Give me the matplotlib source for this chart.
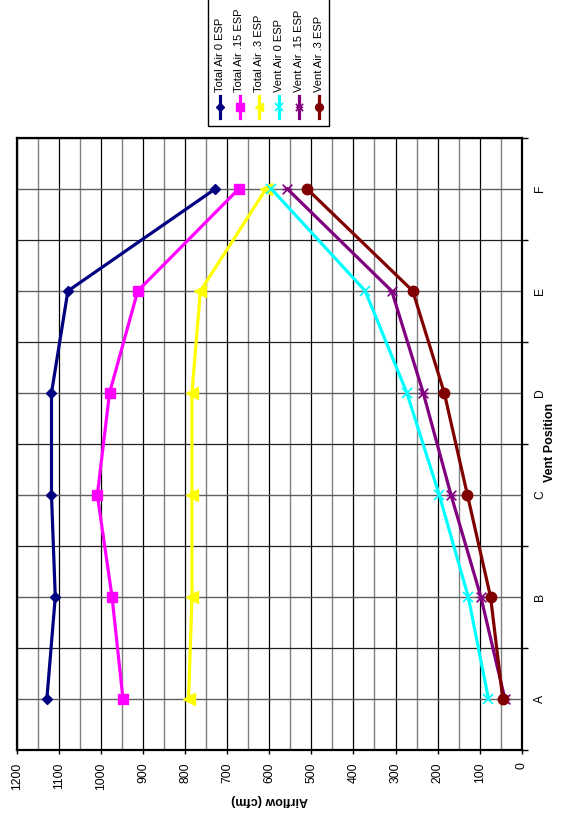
import matplotlib
matplotlib.use('Agg')
import matplotlib.pyplot as plt
from matplotlib.path import Path
from matplotlib.lines import Line2D
from matplotlib.patches import Rectangle
import numpy as np

plt.rcParams['font.family'] = ['Liberation Sans', 'DejaVu Sans']

# ---- data ----
categories = ['A', 'B', 'C', 'D', 'E', 'F']
series_names = ['Total Air 0 ESP', 'Total Air .15 ESP', 'Total Air .3 ESP',
                'Vent Air 0 ESP', 'Vent Air .15 ESP', 'Vent Air .3 ESP']
total_air_0 = [1129, 1109, 1118, 1118, 1079, 729]
total_air_15 = [948, 974, 1009, 980, 913, 673]
total_air_3 = [792, 784, 784, 784, 764, 608]
vent_air_0 = [79, 127, 196, 273, 372, 595]
vent_air_15 = [40, 97, 168, 234, 309, 557]
vent_air_3 = [45, 74, 129, 184, 259, 510]
airflow_ticks = list(range(0, 1300, 100))

# ---- styles ----
star_path = Path([(-1, -1), (1, 1), (-1, 1), (1, -1), (-1, 0), (1, 0)],
                 [Path.MOVETO, Path.LINETO, Path.MOVETO, Path.LINETO, Path.MOVETO, Path.LINETO])
styles = [
    dict(color='#000080', marker='D', ms=5.5),
    dict(color='#FF00FF', marker='s', ms=7.5),
    dict(color='#FFFF00', marker='<', ms=8),
    dict(color='#00FFFF', marker='x', ms=7, mew=1.2),
    dict(color='#800080', marker=star_path, ms=7, mew=1.2),
    dict(color='#800000', marker='o', ms=7.5),
]
all_series = [total_air_0, total_air_15, total_air_3, vent_air_0, vent_air_15, vent_air_3]

W, H = 566, 814
fig = plt.figure(figsize=(W / 100, H / 100), dpi=100)
left, right, top, bottom = 17, 521.7, 138, 750
ax = fig.add_axes([left / W, 1 - bottom / H, (right - left) / W, (bottom - top) / H])

ypos = np.arange(len(categories))
for vals, st in zip(all_series, styles):
    ax.plot(vals, ypos, lw=2.3, zorder=3, **st)

ax.set_xlim(1200, 0)
ax.set_ylim(-0.5, len(categories) - 0.5)

ax.set_xticks(airflow_ticks)
ax.set_xticklabels([str(t) for t in airflow_ticks], rotation=90, fontsize=8.7)
ax.set_xticks(np.arange(50, 1200, 100), minor=True)
ax.tick_params(axis='x', which='major', direction='out', length=3, pad=6, width=1)
ax.tick_params(axis='x', which='minor', length=0)

ax.yaxis.tick_right()
ax.set_yticks(np.arange(-0.5, len(categories), 1.0))
ax.set_yticklabels([])
ax.set_yticks(ypos, minor=True)
ax.set_yticklabels(categories, minor=True, rotation=90, fontsize=8.7)
ax.tick_params(axis='y', which='major', direction='out', length=4, width=1, right=True, left=False)
ax.tick_params(axis='y', which='minor', length=0, pad=9, right=True, left=False,
               labelright=True, labelleft=False)

ax.grid(which='major', axis='x', color='#000000', lw=0.9, zorder=1)
ax.grid(which='minor', axis='x', color='#808080', lw=1.0, zorder=1)
ax.grid(which='major', axis='y', color='#202020', lw=0.9, zorder=1)
ax.grid(which='minor', axis='y', color='#606060', lw=1.0, zorder=1)
ax.set_axisbelow(True)
for s in ax.spines.values():
    s.set_linewidth(1.6)
    s.set_color('black')

# axis titles (chart is rotated)
fig.text(270 / W, 1 - 800 / H, 'Airflow (cfm)', rotation=180, ha='center', va='center',
         fontsize=9, fontweight='bold')
fig.text(550 / W, 1 - 442 / H, 'Vent Position', rotation=90, ha='center', va='center',
         fontsize=9, fontweight='bold')


# rotated legend
def fx(x):
    return x / W


def fy(y):
    return 1 - y / H


fig.add_artist(Rectangle((fx(208), fy(126)), fx(329) - fx(208), fy(-3) - fy(126),
                         transform=fig.transFigure, fill=False, edgecolor='black', lw=1.0))
xs = [220, 239.5, 259, 279, 299, 318.5]
for name, st, x in zip(series_names, styles, xs):
    fig.add_artist(Line2D([fx(x), fx(x)], [fy(118), fy(96)], transform=fig.transFigure,
                          lw=2.3, color=st['color']))
    fig.add_artist(Line2D([fx(x)], [fy(107)], transform=fig.transFigure, lw=0,
                          marker=st['marker'], ms=st['ms'] * 0.75, color=st['color'],
                          mew=st.get('mew', 1.0)))
    fig.text(fx(x), fy(92), name, rotation=90, ha='center', va='bottom', fontsize=8.0)

fig.savefig('out.png', dpi=100)
